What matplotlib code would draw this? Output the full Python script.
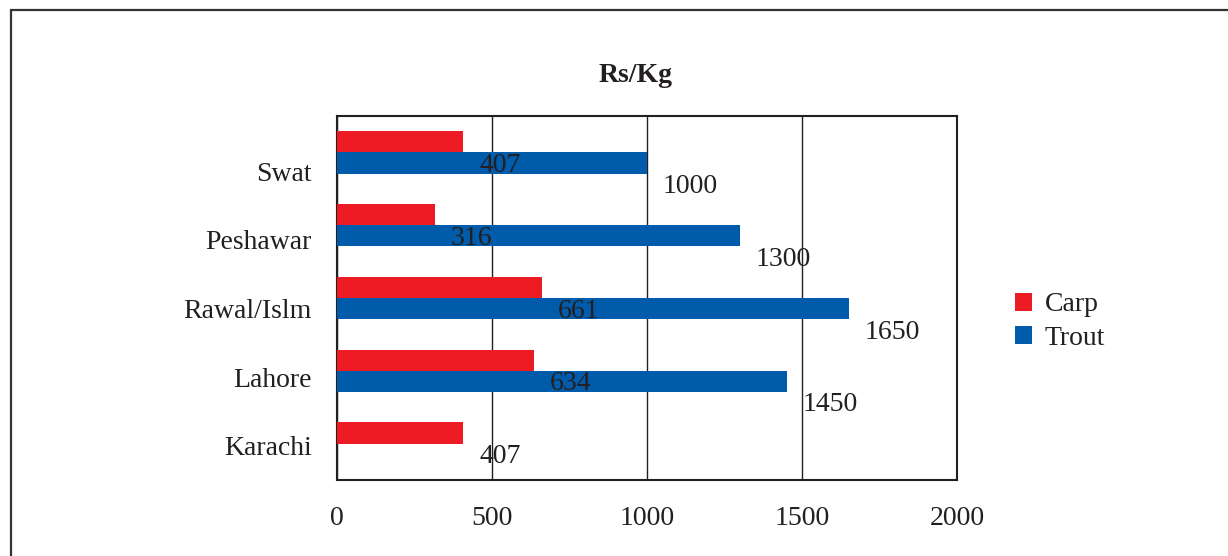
import numpy as np
import matplotlib.pyplot as plt
from matplotlib.patches import Patch, Rectangle
from matplotlib.transforms import ScaledTranslation

cities = ['Swat', 'Peshawar', 'Rawal/Islm', 'Lahore', 'Karachi']
carp = [407, 316, 661, 634, 407]
trout = [1000, 1300, 1650, 1450, None]

plt.rcParams['font.family'] = ['Liberation Serif', 'DejaVu Serif']
plt.rcParams['font.size'] = 20

RED = '#ED1C24'
BLUE = '#005BAA'
INK = '#231F20'

fig = plt.figure(figsize=(12.28, 5.56), dpi=100)
ax = fig.add_axes([337 / 1228, 1 - 480 / 556, 620 / 1228, 364 / 556])

y = np.arange(len(cities))
h = 0.29
carp_bars = ax.barh(y - h / 2, carp, height=h, color=RED, zorder=3)
trout_y = [yi + h / 2 for yi, v in zip(y, trout) if v is not None]
trout_v = [v for v in trout if v is not None]
trout_bars = ax.barh(trout_y, trout_v, height=h, color=BLUE, zorder=3)

# value labels sit just past the bar end, dropped one bar lower
for bars, vals in [(carp_bars, carp), (trout_bars, trout_v)]:
    for b, v in zip(bars, vals):
        ax.annotate(str(v), (b.get_width(), b.get_y() + b.get_height() / 2),
                    xytext=(11.5, -17), textcoords='offset points',
                    ha='left', va='center', fontsize=20, color=INK,
                    zorder=4)

ax.set_xlim(0, 2000)
ax.set_ylim(len(cities) - 0.5, -0.5)
ax.set_xticks([0, 500, 1000, 1500, 2000])
ax.set_yticks(y)
ax.set_yticklabels(cities)
ax.tick_params(axis='both', length=0, labelcolor=INK, labelsize=20)
ax.tick_params(axis='x', pad=19)
ax.tick_params(axis='y', pad=18)
# category names run on a slightly tighter pitch than the bar groups
for i, lab in enumerate(ax.get_yticklabels()):
    dy = (19 - 4.25 * i) / 100
    lab.set_transform(lab.get_transform() +
                      ScaledTranslation(0, -dy, fig.dpi_scale_trans))

ax.xaxis.grid(True, color=INK, linewidth=1.0, zorder=1)
ax.set_axisbelow(True)
for s in ax.spines.values():
    s.set_linewidth(1.5)
    s.set_color(INK)

fig.text(636 / 1228, 1 - 82 / 556, 'Rs/Kg', ha='center', va='baseline',
         fontsize=20, fontweight='bold', color=INK)

handles = [Patch(facecolor=RED, label='Carp'),
           Patch(facecolor=BLUE, label='Trout')]
fig.legend(handles=handles, loc='center left',
           bbox_to_anchor=(990 / 1228, 1 - 321.5 / 556),
           frameon=False, handlelength=0.62, handleheight=0.62,
           handletextpad=0.45, labelspacing=0.29, fontsize=20,
           labelcolor=INK)

# outer frame running off the right and bottom edges
fig.patches.append(Rectangle((11 / 1228, -0.5), 2, 0.5 + 1 - 10 / 556,
                             transform=fig.transFigure, fill=False,
                             edgecolor='#333333', linewidth=1.6))

fig.savefig('out.png', dpi=100)
